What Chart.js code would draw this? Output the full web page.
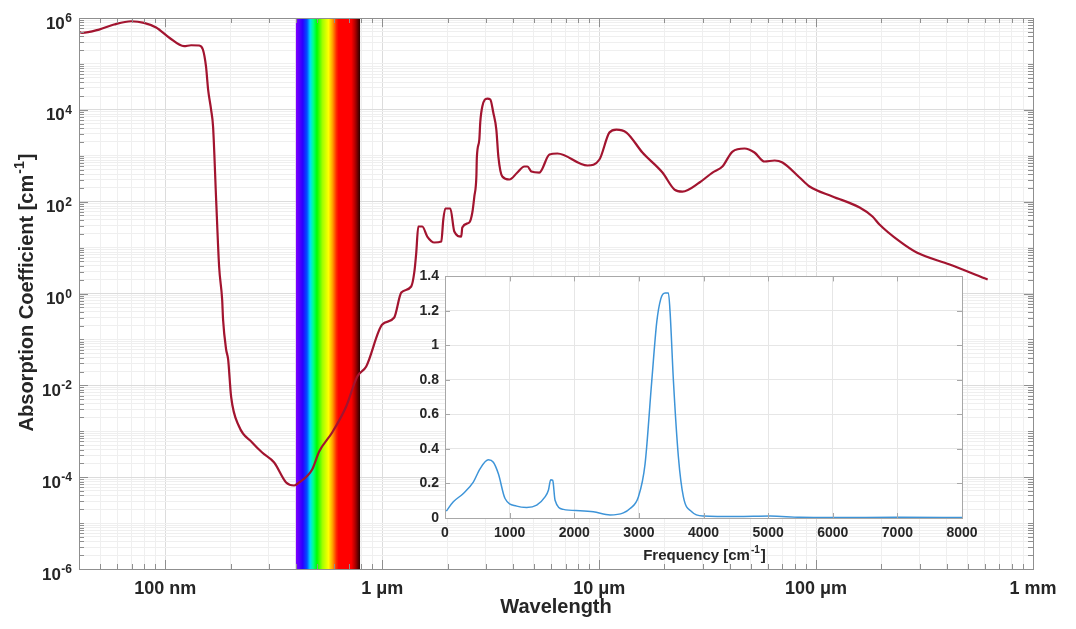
<!DOCTYPE html>
<html>
<head>
<meta charset="utf-8">
<title>Absorption spectrum of liquid water</title>
<script src="https://cdn.jsdelivr.net/npm/chart.js@4.4.1/dist/chart.umd.min.js"></script>
<style>
  html, body { margin: 0; padding: 0; background: #fff; }
  #wrap { position: relative; width: 1076px; height: 629px; overflow: hidden; }
  #mainChart { position: absolute; left: 0; top: 0; }
  #insetChart { position: absolute; left: 395px; top: 262px; }
</style>
</head>
<body>
<div id="wrap">
  <canvas id="mainChart" width="1076" height="629"></canvas>
  <canvas id="insetChart" width="600" height="306"></canvas>
</div>
<script>
// ==========================================
// Data
// ==========================================

// main curve: wavelength [µm] vs absorption coefficient [cm^-1]
const wavelength = [
  0.04, 0.0413, 0.0495, 0.058, 0.0695, 0.0798, 0.0907, 0.104, 0.122, 0.1315,
  0.143, 0.149, 0.154, 0.1575, 0.1626, 0.166, 0.1715, 0.177, 0.1828, 0.1846,
  0.1907, 0.1948, 0.201, 0.2188, 0.2513, 0.2795, 0.3175, 0.3606, 0.3926, 0.414,
  0.4753, 0.512, 0.5878, 0.682, 0.767, 0.8436, 1.0, 1.136, 1.224, 1.36,
  1.405, 1.435, 1.466, 1.53, 1.613, 1.738, 1.872, 1.912, 1.953, 2.06,
  2.149, 2.314, 2.339, 2.52, 2.602, 2.658, 2.716, 2.73, 2.803, 2.83,
  2.893, 3.05, 3.15, 3.25, 3.357, 3.43, 3.577, 3.855, 4.197, 4.52,
  4.67, 4.87, 5.3, 5.9, 6.42, 8.83, 10.03, 11.15, 12.01, 13.36,
  15.83, 19.58, 22.25, 24.2, 29.0, 33.3, 37.0, 41.2, 46.8, 52.0,
  57.9, 64.4, 70.0, 83.9, 93.3, 119, 158.8, 182, 196, 243,
  291, 413, 618
];
const absorption = [
  5.0e5, 4.75e5, 5.6e5, 7.2e5, 8.5e5, 7.85e5, 6.2e5, 3.76e5, 2.43e5, 2.55e5,
  2.52e5, 2.06e5, 8.8e4, 2.77e4, 1.0e4, 4.3e3, 111, 3.87, 0.74, 0.27,
  0.0603, 0.0366, 0.00571, 0.00127, 5.7e-4, 3.45e-4, 2.09e-4, 7.66e-5, 6.59e-5, 7.66e-5,
  1.47e-4, 3.62e-4, 9.4e-4, 3.46e-3, 0.01558, 0.0257, 0.211, 0.3, 1.05, 1.42,
  2.87, 7.8, 28.8, 28.8, 17.4, 12.9, 13.6, 40.9, 71, 71,
  22.4, 17.4, 27.4, 35.2, 58, 129, 353, 915, 2258, 5300,
  1.18e4, 1.76e4, 1.68e4, 8740, 3725, 962, 353, 304, 431, 583,
  583, 454, 431, 1064, 1119, 613, 828, 3207, 3725, 3207,
  1177, 431, 184, 166, 261, 431, 583, 1237, 1438, 1177,
  749, 788, 712, 336, 214, 130, 74.6, 47.5, 31.8, 13.6,
  7.8, 4.28, 2.02
];

// inset curve: frequency [cm^-1] vs absorbance
const frequency = [
  20, 129, 284, 438, 542, 671, 748, 826, 929, 1110,
  1264, 1419, 1548, 1600, 1636, 1667, 1703, 1832, 2090, 2296,
  2554, 2760, 2864, 2992, 3096, 3199, 3277, 3339, 3406, 3457,
  3483, 3535, 3612, 3689, 3818, 3999, 4515, 5031, 5495, 6000,
  7000, 8000
];
const absorbance = [
  0.04, 0.094, 0.142, 0.208, 0.285, 0.337, 0.323, 0.256, 0.113, 0.069,
  0.061, 0.0745, 0.122, 0.161, 0.222, 0.218, 0.103, 0.05, 0.042, 0.036,
  0.018, 0.03, 0.055, 0.122, 0.314, 0.792, 1.136, 1.27, 1.304, 1.304,
  1.193, 0.792, 0.352, 0.122, 0.036, 0.011, 0.008, 0.011, 0.004, 0.003,
  0.004, 0.003
];

// axes
const xTickValues = [0.1, 1, 10, 100, 1000];
const xTickLabels = ['100 nm', '1 μm', '10 μm', '100 μm', '1 mm'];
const yTickExponents = [-6, -4, -2, 0, 2, 4, 6];
const visibleBand = [0.4, 0.79];   // µm, painted as a rainbow strip

// ==========================================
// Styling
// ==========================================
const FONT = "'Liberation Sans', Arial, Helvetica, sans-serif";
const INK = '#262626';
const GRID_MAJOR = '#dcdcdc';
const GRID_MINOR = '#efefef';
const FRAME = '#8f8f8f';

// log ticks k*10^e, major flag on the labelled decades
function logTicks(min, max, isMajorDecade) {
  const ticks = [];
  for (let e = Math.floor(Math.log10(min)); e <= Math.ceil(Math.log10(max)); e++) {
    for (let k = 1; k <= 9; k++) {
      const v = Number((k * Math.pow(10, e)).toPrecision(4));
      if (v < min * 0.9999 || v > max * 1.0001) continue;
      ticks.push({ value: v, major: k === 1 && isMajorDecade(e) });
    }
  }
  return ticks;
}

// text with a superscript piece, optionally rotated
function drawSupText(ctx, base, sup, tail, size, cx, cy, rotate) {
  ctx.save();
  ctx.translate(cx, cy);
  if (rotate) ctx.rotate(-Math.PI / 2);
  const big = `bold ${size}px ${FONT}`;
  const small = `bold ${Math.round(size * 0.68)}px ${FONT}`;
  ctx.font = big;
  const w1 = ctx.measureText(base).width, w3 = ctx.measureText(tail).width;
  ctx.font = small;
  const w2 = ctx.measureText(sup).width;
  let x = -(w1 + w2 + w3) / 2;
  ctx.textBaseline = 'middle';
  ctx.textAlign = 'left';
  ctx.fillStyle = INK;
  ctx.font = big; ctx.fillText(base, x, 0); x += w1;
  ctx.font = small; ctx.fillText(sup, x + 1, -size * 0.36); x += w2 + 2;
  ctx.font = big; ctx.fillText(tail, x, 0);
  ctx.restore();
}

// box + inward tick marks on all four sides (MATLAB look)
const framePlugin = {
  id: 'frame',
  afterDatasetsDraw(chart, args, opts) {
    const { ctx, chartArea: a, scales } = chart;
    ctx.save();
    ctx.strokeStyle = opts.color || FRAME;
    ctx.lineWidth = 1;
    ctx.beginPath();
    scales.x.ticks.forEach(t => {
      const px = Math.round(scales.x.getPixelForValue(t.value)) + 0.5;
      const len = t.major === false ? opts.minor : opts.major;
      ctx.moveTo(px, a.bottom); ctx.lineTo(px, a.bottom - len);
      ctx.moveTo(px, a.top); ctx.lineTo(px, a.top + len);
    });
    scales.y.ticks.forEach(t => {
      const py = Math.round(scales.y.getPixelForValue(t.value)) + 0.5;
      const len = t.major === false ? opts.minor : opts.major;
      ctx.moveTo(a.left, py); ctx.lineTo(a.left + len, py);
      ctx.moveTo(a.right, py); ctx.lineTo(a.right - len, py);
    });
    ctx.stroke();
    ctx.strokeRect(Math.round(a.left) + 0.5, Math.round(a.top) + 0.5,
      Math.round(a.width), Math.round(a.height));
    ctx.restore();
  }
};

// rainbow strip across the visible range
const spectrumPlugin = {
  id: 'spectrum',
  beforeDatasetsDraw(chart) {
    const { ctx, chartArea: a, scales: { x } } = chart;
    const x0 = x.getPixelForValue(visibleBand[0]);
    const x1 = x.getPixelForValue(visibleBand[1]);
    const stops = [
      [0.40, '#8000ff'], [0.43, '#2a00ff'], [0.45, '#0050ff'], [0.465, '#00d8ff'],
      [0.48, '#00ff90'], [0.50, '#00ff00'], [0.53, '#a0ff00'], [0.565, '#ffff00'],
      [0.59, '#ffa000'], [0.615, '#ff2800'], [0.63, '#ff0000'], [0.72, '#ff0000'],
      [0.75, '#b00000'], [0.79, '#2a0000']
    ];
    const g = ctx.createLinearGradient(x0, 0, x1, 0);
    stops.forEach(([w, c]) => {
      const f = (x.getPixelForValue(w) - x0) / (x1 - x0);
      g.addColorStop(Math.min(1, Math.max(0, f)), c);
    });
    ctx.save();
    ctx.fillStyle = g;
    ctx.fillRect(x0, a.top, x1 - x0, a.height);
    ctx.restore();
  }
};

// 10^n labels and the y title of the main axes
const mainTextPlugin = {
  id: 'mainText',
  afterDraw(chart) {
    const { ctx, chartArea: a, scales: { y } } = chart;
    ctx.save();
    ctx.fillStyle = INK;
    ctx.textAlign = 'right';
    ctx.textBaseline = 'alphabetic';
    yTickExponents.forEach(e => {
      const py = y.getPixelForValue(Math.pow(10, e));
      const sup = String(e);
      ctx.font = `bold 12px ${FONT}`;
      const sw = ctx.measureText(sup).width;
      ctx.fillText(sup, 72, py + 4);
      ctx.font = `bold 17px ${FONT}`;
      ctx.fillText('10', 72 - sw - 0.5, py + 10.5);
    });
    ctx.restore();
    drawSupText(ctx, 'Absorption Coefficient [cm', '-1', ']', 20, 27, (a.top + a.bottom) / 2, true);
  }
};

const insetTextPlugin = {
  id: 'insetText',
  afterDraw(chart) {
    const { ctx, chartArea: a } = chart;
    drawSupText(ctx, 'Frequency [cm', '-1', ']', 15, (a.left + a.right) / 2, 294, false);
  }
};

const whiteAreaPlugin = {
  id: 'whiteArea',
  beforeDraw(chart) {
    const { ctx, chartArea: a } = chart;
    ctx.save();
    ctx.fillStyle = '#fff';
    ctx.fillRect(a.left, a.top, a.width, a.height);
    ctx.restore();
  }
};

// ==========================================
// Main chart (log-log)
// ==========================================
new Chart(document.getElementById('mainChart'), {
  type: 'line',
  data: {
    datasets: [{
      data: wavelength.map((w, i) => ({ x: w, y: absorption[i] })),
      borderColor: '#A2142F',
      borderWidth: 2.2,
      pointRadius: 0,
      cubicInterpolationMode: 'monotone',
      fill: false
    }]
  },
  options: {
    responsive: false,
    animation: false,
    events: [],
    layout: { padding: { left: 0, top: 18, right: 43, bottom: 0 } },
    plugins: {
      legend: { display: false },
      tooltip: { enabled: false },
      frame: { major: 9, minor: 5 }
    },
    scales: {
      x: {
        type: 'logarithmic',
        min: 0.04,
        max: 1000,
        afterBuildTicks: s => { s.ticks = logTicks(0.04, 1000, () => true); },
        afterFit: s => { s.height = 60; },
        grid: {
          drawTicks: false,
          color: c => (c.tick && c.tick.major ? GRID_MAJOR : GRID_MINOR)
        },
        border: { display: false },
        ticks: {
          autoSkip: false,
          maxRotation: 0,
          minRotation: 0,
          padding: 9,
          color: INK,
          font: { family: FONT, size: 18, weight: 'bold' },
          callback: v => {
            const i = xTickValues.indexOf(v);
            return i >= 0 ? xTickLabels[i] : '';
          }
        },
        title: {
          display: true,
          text: 'Wavelength',
          color: INK,
          font: { family: FONT, size: 20, weight: 'bold' },
          padding: { top: 0, bottom: 10 }
        }
      },
      y: {
        type: 'logarithmic',
        min: 1e-6,
        max: 1e6,
        afterBuildTicks: s => { s.ticks = logTicks(1e-6, 1e6, e => e % 2 === 0); },
        afterFit: s => { s.width = 79; },
        grid: {
          drawTicks: false,
          color: c => (c.tick && c.tick.major ? GRID_MAJOR : GRID_MINOR)
        },
        border: { display: false },
        ticks: { display: false }
      }
    }
  },
  plugins: [spectrumPlugin, framePlugin, mainTextPlugin]
});

// ==========================================
// Inset chart (linear)
// ==========================================
new Chart(document.getElementById('insetChart'), {
  type: 'line',
  data: {
    datasets: [{
      data: frequency.map((f, i) => ({ x: f, y: absorbance[i] })),
      borderColor: '#3d94d8',
      borderWidth: 1.5,
      pointRadius: 0,
      cubicInterpolationMode: 'monotone',
      fill: false
    }]
  },
  options: {
    responsive: false,
    animation: false,
    events: [],
    layout: { padding: { left: 0, top: 12, right: 33, bottom: 0 } },
    plugins: {
      legend: { display: false },
      tooltip: { enabled: false },
      frame: { major: 5, minor: 3, color: '#a8a8a8' }
    },
    scales: {
      x: {
        type: 'linear',
        min: 0,
        max: 8000,
        afterFit: s => { s.height = 50; },
        grid: { drawTicks: false, color: '#e6e6e6' },
        border: { display: false },
        ticks: {
          stepSize: 1000,
          maxRotation: 0,
          padding: 7,
          color: INK,
          font: { family: FONT, size: 14, weight: 'bold' },
          callback: v => String(v)
        }
      },
      y: {
        type: 'linear',
        min: 0,
        max: 1.4,
        afterFit: s => { s.width = 50; },
        grid: { drawTicks: false, color: '#e6e6e6' },
        border: { display: false },
        ticks: {
          stepSize: 0.2,
          padding: 6,
          color: INK,
          font: { family: FONT, size: 14, weight: 'bold' },
          callback: v => String(Number(v.toFixed(1)))
        }
      }
    }
  },
  plugins: [whiteAreaPlugin, framePlugin, insetTextPlugin]
});
</script>
</body>
</html>
